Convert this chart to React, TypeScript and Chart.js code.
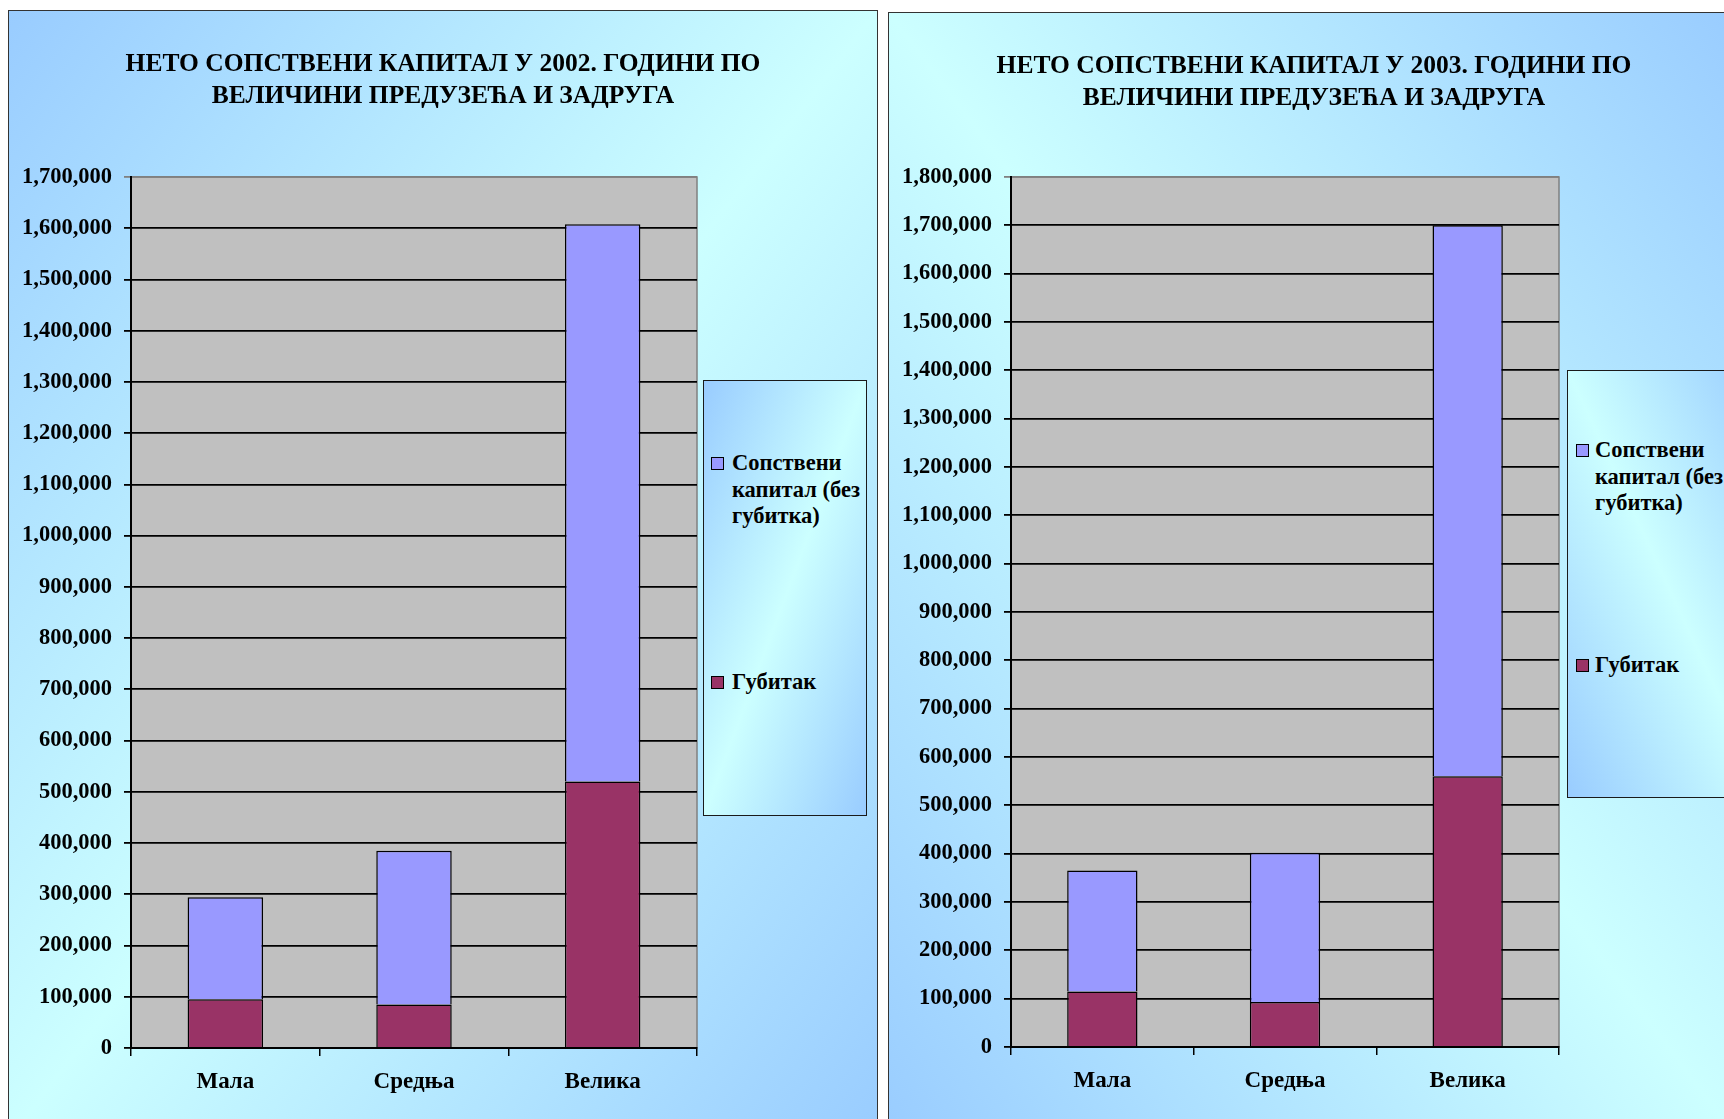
import React, { useEffect, useRef } from 'react';
import { Chart, registerables } from 'chart.js';

Chart.register(...registerables);

const categories = ['Мала', 'Средња', 'Велика'];
const capitalLabel = 'Сопствени капитал (без губитка)';
const lossLabel = 'Губитак';
const capitalLegendLines = ['Сопствени', 'капитал (без', 'губитка)'];
const lossLegendLines = ['Губитак'];

const title2002 = ['НЕТО СОПСТВЕНИ КАПИТАЛ У 2002. ГОДИНИ ПО', 'ВЕЛИЧИНИ ПРЕДУЗЕЋА И ЗАДРУГА'];
const loss2002 = [95000, 85000, 520000];
const capital2002 = [199000, 300000, 1088000];
const yMax2002 = 1700000;

const title2003 = ['НЕТО СОПСТВЕНИ КАПИТАЛ У 2003. ГОДИНИ ПО', 'ВЕЛИЧИНИ ПРЕДУЗЕЋА И ЗАДРУГА'];
const loss2003 = [115000, 93000, 560000];
const capital2003 = [250000, 309000, 1140000];
const yMax2003 = 1800000;

const yStep = 100000;

const FONT = "'Liberation Serif', 'Times New Roman', serif";
const CAPITAL_COLOR = '#9999FF';
const LOSS_COLOR = '#993366';
const BLUE = '#99CCFF';
const CYAN = '#CCFFFF';

const plotBg = {
  id: 'plotBg',
  beforeDraw(chart: any) {
    const { ctx, chartArea: a } = chart;
    ctx.save();
    ctx.fillStyle = '#C0C0C0';
    ctx.fillRect(a.left, a.top, a.right - a.left, a.bottom - a.top);
    ctx.strokeStyle = '#808080';
    ctx.lineWidth = 1.5;
    ctx.strokeRect(a.left, a.top, a.right - a.left, a.bottom - a.top);
    ctx.restore();
  },
};

type PanelProps = {
  title: string[];
  loss: number[];
  capital: number[];
  yMax: number;
  width: number;
  height: number;
  plotLeft: number;
  plotRight: number;
  plotTop: number;
  plotBottom: number;
  barFraction: number;
};

function BarChart(p: PanelProps) {
  const ref = useRef<HTMLCanvasElement | null>(null);
  useEffect(() => {
    if (!ref.current) return;
    const titleSize = 25.5;
    const titleLineH = 32.2;
    const titleTop = 37;
    const titleBottom = p.plotTop - titleTop - titleLineH * 2;
    const chart = new Chart(ref.current, {
      type: 'bar',
      data: {
        labels: categories,
        datasets: [
          {
            label: lossLabel,
            data: p.loss,
            backgroundColor: LOSS_COLOR,
            borderColor: '#000000',
            borderWidth: 1.5,
            categoryPercentage: p.barFraction,
            barPercentage: 1,
          },
          {
            label: capitalLabel,
            data: p.capital,
            backgroundColor: CAPITAL_COLOR,
            borderColor: '#000000',
            borderWidth: 1.5,
            categoryPercentage: p.barFraction,
            barPercentage: 1,
          },
        ],
      },
      options: {
        animation: false,
        responsive: false,
        maintainAspectRatio: false,
        devicePixelRatio: 1,
        layout: { padding: 0 },
        plugins: {
          legend: { display: false },
          tooltip: { enabled: false },
          title: {
            display: true,
            text: p.title,
            color: '#000000',
            font: { family: FONT, size: titleSize, weight: 'bold', lineHeight: titleLineH / titleSize },
            padding: { top: titleTop, bottom: titleBottom },
          },
        },
        scales: {
          x: {
            stacked: true,
            offset: true,
            grid: {
              offset: true,
              drawOnChartArea: false,
              drawTicks: true,
              tickLength: 8,
              color: '#000000',
              lineWidth: 1.5,
            },
            border: { display: true, color: '#000000', width: 2 },
            ticks: {
              color: '#000000',
              padding: 12,
              font: { family: FONT, size: 23, weight: 'bold' },
            },
            afterFit: (s: any) => {
              s.height = p.height - p.plotBottom;
            },
          },
          y: {
            stacked: true,
            min: 0,
            max: p.yMax,
            grid: {
              color: (c: any) => (c.tick && c.tick.value === p.yMax ? '#808080' : '#000000'),
              lineWidth: 1.8,
              drawTicks: true,
              tickLength: 7,
            },
            border: { display: true, color: '#000000', width: 2 },
            ticks: {
              stepSize: yStep,
              color: '#000000',
              padding: 12,
              font: { family: FONT, size: 22.5, weight: 'bold' },
              callback: (v: any) => Number(v).toLocaleString('en-US'),
            },
            afterFit: (s: any) => {
              s.width = p.plotLeft;
            },
          },
          yRight: {
            type: 'linear',
            position: 'right',
            display: true,
            grid: { display: false },
            border: { display: false },
            ticks: { display: false },
            afterFit: (s: any) => {
              s.width = p.width - p.plotRight;
            },
          },
        },
      },
      plugins: [plotBg],
    } as any);
    return () => chart.destroy();
  }, []);
  return (
    <canvas
      ref={ref}
      width={p.width}
      height={p.height}
      style={{ position: 'absolute', left: 0, top: 0, width: p.width, height: p.height }}
    />
  );
}

type LegendProps = {
  left: number;
  top: number;
  width: number;
  height: number;
  gradient: string;
  item1Top: number;
  item2Top: number;
  textLeft: number;
  squareLeft: number;
};

function LegendItem({ top, lines, color, textLeft, squareLeft }: any) {
  return (
    <div style={{ position: 'absolute', top, left: 0, right: 0 }}>
      <div
        style={{
          position: 'absolute',
          left: squareLeft,
          top: 7,
          width: 11,
          height: 11,
          background: color,
          border: '1px solid #000',
        }}
      />
      <div
        style={{
          position: 'absolute',
          left: textLeft,
          top: 0,
          whiteSpace: 'nowrap',
          fontFamily: FONT,
          fontWeight: 'bold',
          fontSize: 22.5,
          lineHeight: '26.5px',
          color: '#000',
        }}
      >
        {lines.map((l: string, i: number) => (
          <div key={i}>{l}</div>
        ))}
      </div>
    </div>
  );
}

function Legend(p: LegendProps) {
  return (
    <div
      style={{
        position: 'absolute',
        left: p.left,
        top: p.top,
        width: p.width,
        height: p.height,
        background: p.gradient,
        border: '1.5px solid #1a1a1a',
        boxSizing: 'border-box',
        overflow: 'hidden',
      }}
    >
      <LegendItem top={p.item1Top} lines={capitalLegendLines} color={CAPITAL_COLOR} textLeft={p.textLeft} squareLeft={p.squareLeft} />
      <LegendItem top={p.item2Top} lines={lossLegendLines} color={LOSS_COLOR} textLeft={p.textLeft} squareLeft={p.squareLeft} />
    </div>
  );
}

export default function App() {
  useEffect(() => {
    document.body.style.margin = '0';
    document.body.style.overflow = 'hidden';
  }, []);
  const grad1 = `linear-gradient(to bottom right, ${BLUE} 0%, ${CYAN} 50%, ${BLUE} 100%)`;
  const grad2 = `linear-gradient(to bottom left, ${BLUE} 0%, ${CYAN} 50%, ${BLUE} 100%)`;
  return (
    <div style={{ position: 'relative', width: 1724, height: 1119, overflow: 'hidden', background: '#fff' }}>
      <div
        style={{
          position: 'absolute',
          left: 8,
          top: 10,
          width: 870,
          height: 1130,
          background: grad1,
          border: '1.5px solid #333',
          boxSizing: 'border-box',
        }}
      >
        <BarChart
          title={title2002}
          loss={loss2002}
          capital={capital2002}
          yMax={yMax2002}
          width={868}
          height={1109}
          plotLeft={122}
          plotRight={688}
          plotTop={166}
          plotBottom={1037}
          barFraction={0.4}
        />
        <Legend left={694} top={369} width={164} height={436} gradient={grad1} item1Top={69} item2Top={288} textLeft={28} squareLeft={7} />
      </div>
      <div
        style={{
          position: 'absolute',
          left: 888,
          top: 12,
          width: 852,
          height: 1130,
          background: grad2,
          border: '1.5px solid #333',
          boxSizing: 'border-box',
        }}
      >
        <BarChart
          title={title2003}
          loss={loss2003}
          capital={capital2003}
          yMax={yMax2003}
          width={850}
          height={1107}
          plotLeft={122}
          plotRight={670}
          plotTop={164}
          plotBottom={1034}
          barFraction={0.385}
        />
        <Legend left={678} top={357} width={200} height={428} gradient={grad2} item1Top={66} item2Top={281} textLeft={27} squareLeft={8} />
      </div>
    </div>
  );
}
